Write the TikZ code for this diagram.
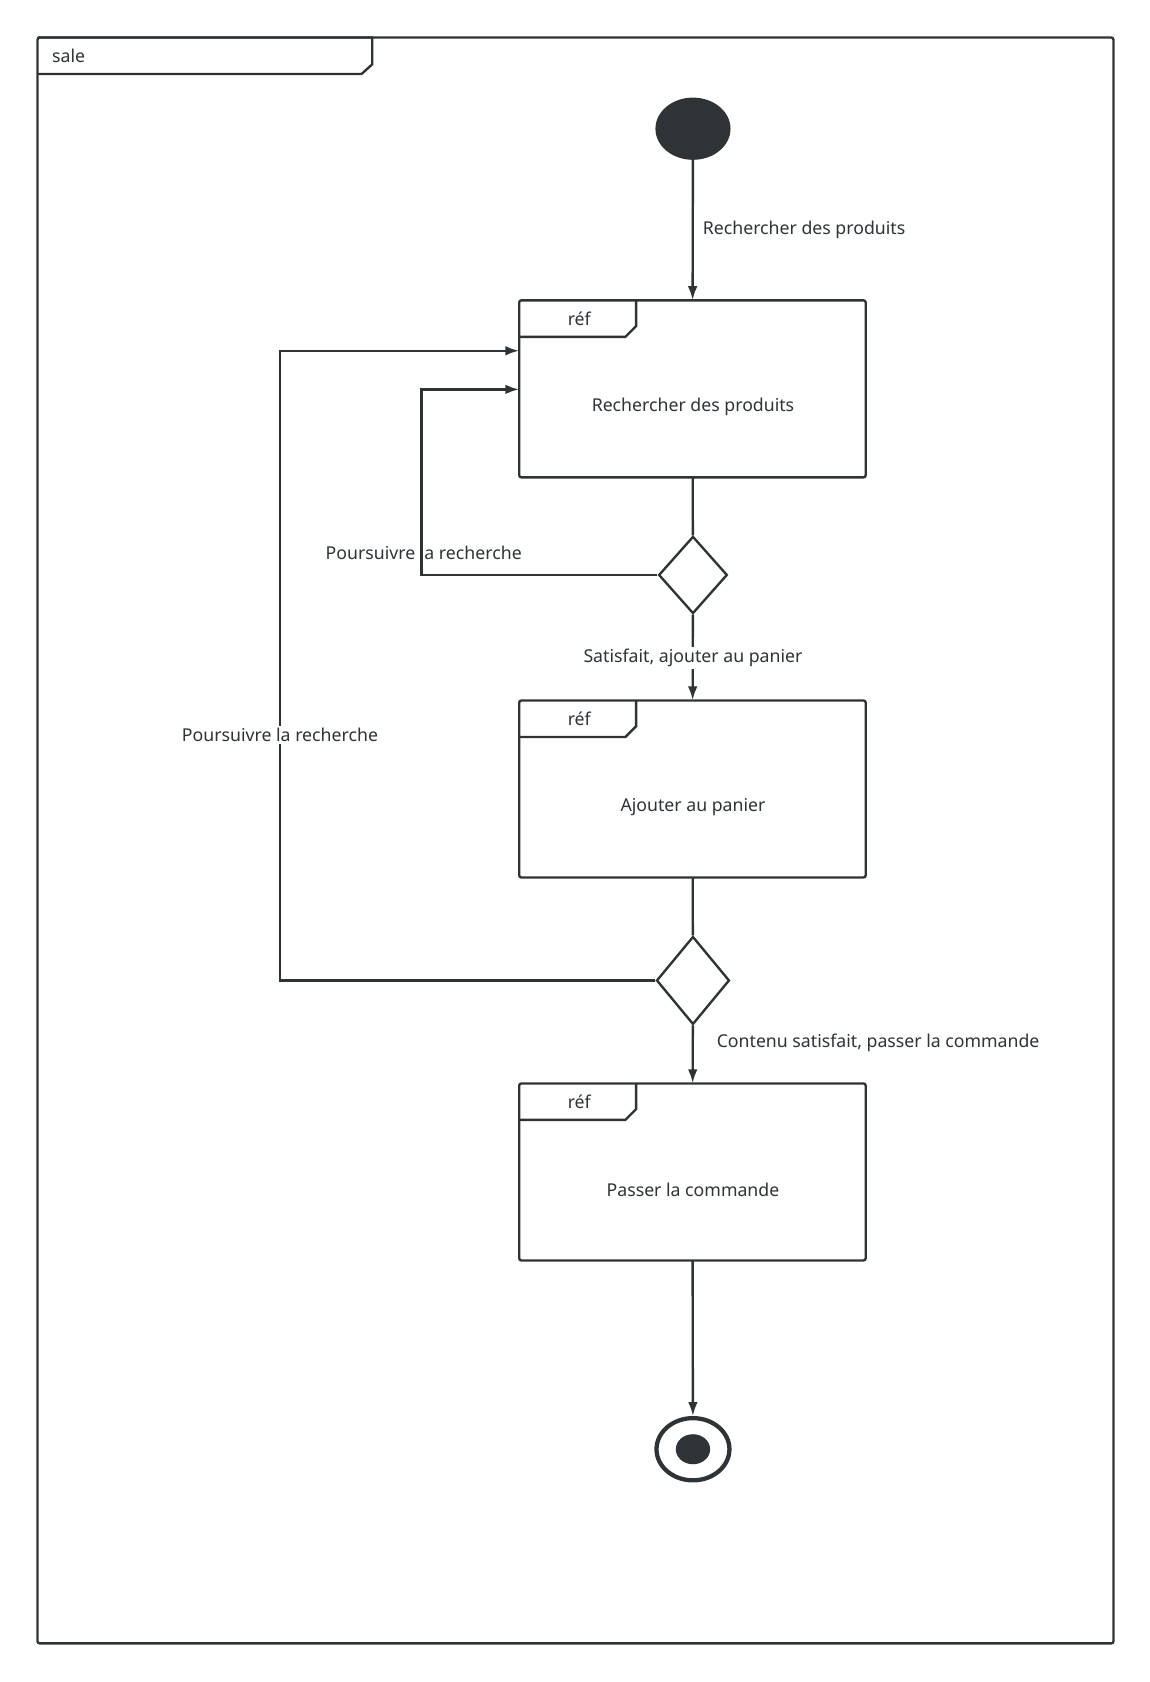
\documentclass[tikz,border=0pt]{standalone}
\usepackage{fontspec}
\setmainfont{Noto Sans}
\usetikzlibrary{arrows.meta,shapes.geometric}
\definecolor{ink}{HTML}{2F3336}
\begin{document}
\begin{tikzpicture}[x=1pt,y=-1pt,
  ln/.style={draw=ink,line width=2.2pt},
  arr/.style={ln,-{Latex[length=13pt,width=9pt]}},
  txt/.style={font=\fontsize{16.5}{19}\selectfont,text=ink,inner sep=2pt},
  lbl/.style={txt,fill=white},
  box/.style={ln,rounded corners=2pt},
  dia/.style={diamond,ln,fill=white,minimum width=#1,inner sep=0pt,aspect=0.88}]
\useasboundingbox (0,0) rectangle (1072,1568);
\draw[box] (35,35) rectangle (1038,1532);
\draw[ln] (35,35) -- (347,35) -- (347,60) -- (337,69) -- (35,69);
\node[txt] (sale) at (64,52) {sale};
\node[ellipse,fill=ink,minimum width=70pt,minimum height=58pt,inner sep=0pt] (start) at (646,120) {};
\newcommand{\refbox}[4]{%
  \draw[box] (484,#2) rectangle (807,#2+165);
  \draw[ln] (484,#2+34) -- (583,#2+34) -- (593,#2+24) -- (593,#2);
  \node[txt] (#1r) at (540,#2+17) {réf};
  \node[txt,minimum width=323pt,minimum height=165pt] (#1) at (645.5,#2+82.5) {};
  \node[txt] (#1t) at (646,#2+#3) {#4};}
\refbox{b1}{280}{99}{Rechercher des produits}
\refbox{b2}{653}{99}{Ajouter au panier}
\refbox{b3}{1010}{99}{Passer la commande}
\node[dia=64pt,minimum height=72pt] (d1) at (646,536) {};
\node[dia=68pt,minimum height=82pt] (d2) at (646,914) {};
\node[ellipse,draw=ink,line width=4pt,minimum width=68pt,minimum height=58pt,inner sep=0pt] (end) at (646,1351) {};
\fill[ink] (646,1351) ellipse (16 and 14);
\draw[arr] (start) -- (b1);
\node[txt,anchor=west] (l1) at (653,214) {Rechercher des produits};
\draw[ln] (b1) -- (d1);
\draw[arr] (d1.west) -- (393,536) -- (393,363) -- (484,363);
\node[txt] (l2) at (395,515) {Poursuivre la recherche};
\draw[arr] (d1) -- (b2);
\node[lbl] (l3) at (646,613) {Satisfait, ajouter au panier};
\draw[ln] (b2) -- (d2);
\draw[arr] (d2.west) -- (261,914) -- (261,327) -- (484,327);
\node[lbl] (l4) at (261,685) {Poursuivre la recherche};
\draw[arr] (d2) -- (b3);
\node[txt,anchor=west] (l5) at (666,972) {Contenu satisfait, passer la commande};
\draw[arr] (b3) -- (end);
\end{tikzpicture}
\end{document}
